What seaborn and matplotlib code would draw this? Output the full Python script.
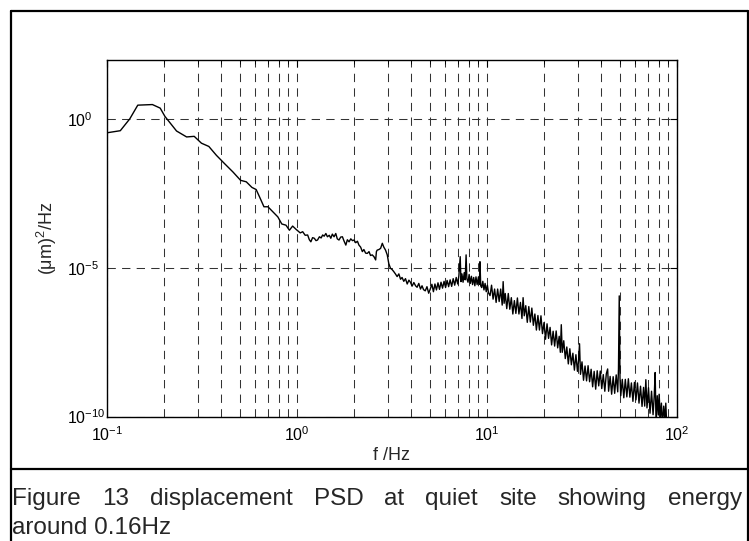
import numpy as np
import pandas as pd
import matplotlib
matplotlib.use("Agg")
import matplotlib.pyplot as plt
import seaborn as sns
from matplotlib.ticker import LogLocator, LogFormatterSciNotation, NullFormatter, NullLocator
from matplotlib.lines import Line2D

# ---------------- data (log10 units) ----------------
log10_freq = [
    -1.000, -0.930, -0.880, -0.838, -0.761, -0.720, -0.695, -0.634, -0.581, -0.541,
    -0.503, -0.464, -0.424, -0.381, -0.337, -0.297, -0.267, -0.237, -0.215, -0.197,
    -0.174, -0.153, -0.127, -0.101, -0.080, -0.058, -0.040, -0.023, -0.005,
    0.017, 0.030, 0.043, 0.056, 0.065, 0.073, 0.082, 0.091, 0.100, 0.108,
    0.118, 0.127, 0.135, 0.143, 0.152, 0.160, 0.170, 0.178, 0.186, 0.195,
    0.204, 0.212, 0.221, 0.230, 0.239, 0.248, 0.257, 0.265, 0.274, 0.283,
    0.292, 0.300, 0.309, 0.318, 0.326, 0.335, 0.344, 0.352, 0.361, 0.370,
    0.379, 0.387, 0.396, 0.405, 0.414, 0.418, 0.422, 0.431, 0.440, 0.449,
    0.457, 0.466, 0.475, 0.483, 0.492, 0.500, 0.509, 0.518, 0.527, 0.536,
    0.545, 0.553, 0.562, 0.571, 0.580, 0.589, 0.597, 0.606, 0.615, 0.624,
    0.632, 0.641, 0.650, 0.658, 0.666, 0.675, 0.684, 0.693, 0.702,
    0.710, 0.718, 0.726, 0.734, 0.742, 0.750, 0.758, 0.766, 0.774, 0.782,
    0.790, 0.798, 0.806, 0.814, 0.822, 0.830, 0.838, 0.846, 0.852, 0.859,
    0.863, 0.868, 0.874, 0.880, 0.885, 0.890, 0.894, 0.900, 0.906, 0.912,
    0.918, 0.924, 0.930, 0.936, 0.942, 0.948, 0.955, 0.960, 0.963, 0.967,
    0.972, 0.978, 0.984, 0.990, 0.996, 1.002, 1.008,
    1.016, 1.024, 1.032, 1.040, 1.048, 1.056, 1.064, 1.072, 1.080, 1.085,
    1.090, 1.096, 1.104, 1.112, 1.120, 1.128, 1.136, 1.144, 1.152, 1.160,
    1.168, 1.176, 1.184, 1.190, 1.196, 1.204, 1.212, 1.220, 1.228, 1.236,
    1.244, 1.252, 1.260, 1.268, 1.276, 1.284, 1.292, 1.300, 1.308, 1.316,
    1.324, 1.332, 1.340, 1.348, 1.356, 1.364, 1.372, 1.380, 1.386, 1.391,
    1.396, 1.404, 1.412, 1.420, 1.428, 1.436, 1.444, 1.452, 1.460, 1.468,
    1.476, 1.482, 1.487, 1.492, 1.500, 1.508, 1.516, 1.524, 1.532, 1.540,
    1.548, 1.556, 1.564, 1.572, 1.580, 1.588, 1.596, 1.604, 1.612, 1.620,
    1.628, 1.635, 1.640, 1.648, 1.656, 1.664, 1.672, 1.680, 1.688, 1.692,
    1.696, 1.700, 1.704, 1.712, 1.720, 1.728, 1.736, 1.744, 1.752, 1.760,
    1.768, 1.776, 1.784, 1.792, 1.800, 1.808, 1.816, 1.824, 1.830, 1.836,
    1.842, 1.850, 1.858, 1.866, 1.874, 1.880, 1.885, 1.890, 1.896, 1.902,
    1.906, 1.912, 1.918, 1.923, 1.930, 1.936, 1.941, 1.946, 1.949,
]
log10_psd = [
    -0.45, -0.38, 0.02, 0.48, 0.50, 0.38, 0.10, -0.39, -0.59, -0.57,
    -0.80, -0.91, -1.21, -1.49, -1.77, -2.05, -2.10, -2.29, -2.36, -2.61,
    -2.94, -2.94, -3.11, -3.28, -3.52, -3.56, -3.73, -3.59, -3.70,
    -3.82, -3.78, -3.90, -3.89, -4.05, -4.12, -3.98, -4.00, -4.08, -4.06,
    -3.95, -3.99, -3.89, -3.93, -3.84, -3.95, -3.90, -4.00, -3.86, -3.95,
    -3.84, -4.02, -4.06, -3.96, -3.95, -4.10, -4.23, -4.05, -4.12, -4.02,
    -4.08, -4.06, -4.15, -4.10, -4.23, -4.30, -4.45, -4.38, -4.50, -4.51,
    -4.45, -4.58, -4.56, -4.62, -4.73, -4.45, -4.40, -4.38, -4.34, -4.17,
    -4.30, -4.40, -4.56, -4.85, -5.01, -5.05, -5.12, -5.20, -5.29, -5.20,
    -5.38, -5.32, -5.45, -5.36, -5.54, -5.41, -5.48, -5.61, -5.49, -5.60,
    -5.65, -5.52, -5.71, -5.60, -5.73, -5.77, -5.63, -5.85, -5.70,
    -5.55, -5.80, -5.54, -5.74, -5.50, -5.72, -5.48, -5.68, -5.45, -5.66,
    -5.42, -5.63, -5.40, -5.62, -5.36, -5.58, -5.32, -5.54, -5.26, -4.62,
    -5.46, -5.20, -5.48, -5.16, -5.40, -4.56, -5.36, -5.48, -5.22, -5.52,
    -5.28, -5.56, -5.32, -5.60, -5.30, -5.56, -5.30, -5.55, -4.79, -5.60,
    -5.66, -5.45, -5.74, -5.52, -5.80, -5.58, -5.84,
    -5.93, -5.58, -6.05, -5.71, -6.16, -5.71, -6.13, -5.71, -6.25, -5.46,
    -6.19, -5.86, -6.37, -5.86, -6.39, -6.00, -6.55, -6.10, -6.53, -6.01,
    -6.55, -6.16, -6.70, -6.00, -6.61, -6.27, -6.83, -6.30, -6.82, -6.35,
    -6.93, -6.55, -7.09, -6.60, -7.09, -6.61, -7.21, -6.84, -7.40, -6.88,
    -7.37, -7.00, -7.59, -7.13, -7.63, -7.12, -7.69, -7.30, -7.84, -6.91,
    -7.84, -7.45, -8.05, -7.66, -8.23, -7.72, -8.26, -7.87, -8.44, -7.92,
    -8.48, -8.12, -7.55, -8.58, -8.16, -8.78, -8.30, -8.80, -8.29, -8.83,
    -8.41, -9.00, -8.48, -9.08, -8.46, -8.97, -8.47, -9.06, -8.59, -9.15,
    -8.56, -8.40, -9.15, -8.65, -9.25, -8.66, -9.22, -8.60, -9.17, -8.40,
    -5.94, -8.70, -9.30, -8.75, -9.37, -8.75, -9.34, -8.73, -9.35, -8.87,
    -9.49, -8.85, -9.44, -8.87, -9.55, -8.98, -9.66, -9.02, -9.65, -8.76,
    -9.71, -9.03, -9.89, -9.15, -9.94, -9.33, -8.52, -10.30, -9.30, -9.95,
    -9.25, -10.05, -9.55, -10.30, -9.65, -10.10, -9.55, -10.30, -10.20,
]

x_tick_values = [1e-1, 1e0, 1e1, 1e2]
y_tick_values = [1e-10, 1e-5, 1e0]
x_label = "f /Hz"
y_label = "(μm)$^{2}$/Hz"
caption_line1 = "Figure 13 displacement PSD at quiet site showing energy"
caption_line2 = "around 0.16Hz"

df = pd.DataFrame({
    "freq": np.power(10.0, log10_freq),
    "psd": np.power(10.0, log10_psd),
})

# ---------------- style ----------------
sns.set_style("white")
plt.rcParams["font.family"] = ["Liberation Sans", "DejaVu Sans"]
plt.rcParams["mathtext.default"] = "regular"
plt.rcParams["axes.unicode_minus"] = False

W, H = 749, 541
fig = plt.figure(figsize=(W / 100, H / 100), dpi=100)
ax = fig.add_axes([107 / W, 1 - 416.5 / H, (677 - 107) / W, (416.5 - 60) / H])

sns.lineplot(data=df, x="freq", y="psd", ax=ax, color="black",
             linewidth=1.0, estimator=None, sort=False)

ax.set_xscale("log")
ax.set_yscale("log")
ax.set_xlim(0.1, 100)
ax.set_ylim(1e-10, 1e2)

ax.xaxis.set_minor_locator(LogLocator(base=10, subs=np.arange(2, 10)))
ax.xaxis.set_minor_formatter(NullFormatter())
ax.set_xticks(x_tick_values)
ax.set_yticks(y_tick_values)
ax.yaxis.set_minor_locator(NullLocator())
ax.xaxis.set_major_formatter(LogFormatterSciNotation())
ax.yaxis.set_major_formatter(LogFormatterSciNotation())

grid_kw = dict(color="0.2", linewidth=0.75, linestyle=(0, (8, 6)))
ax.grid(True, which="major", axis="both", **grid_kw)
ax.grid(True, which="minor", axis="x", **grid_kw)

ax.tick_params(which="both", direction="in", top=True, right=True,
               colors="black", labelsize=11.5)
ax.tick_params(which="major", length=5, width=0.8)
ax.tick_params(which="minor", length=3, width=0.6)
ax.tick_params(axis="x", pad=6)
ax.tick_params(axis="y", pad=29)
for lbl in ax.get_yticklabels():
    lbl.set_horizontalalignment("left")
for s in ax.spines.values():
    s.set_color("black")
    s.set_linewidth(1.0)

ax.set_xlabel(x_label, fontsize=13)
ax.set_ylabel(y_label, fontsize=13)
ax.xaxis.set_label_coords(392 / W, 1 - 455 / H, transform=fig.transFigure)
ax.yaxis.set_label_coords(47 / W, 1 - 238 / H, transform=fig.transFigure)
ax.xaxis.label.set_va("center")
ax.yaxis.label.set_va("center")

# ---------------- outer frame and caption ----------------
frame_kw = dict(color="black", linewidth=1.6, transform=fig.transFigure)
fig.add_artist(Line2D([10.5 / W, 10.5 / W], [0, 1 - 11 / H], **frame_kw))
fig.add_artist(Line2D([10.5 / W, 747.5 / W], [1 - 11 / H, 1 - 11 / H], **frame_kw))
fig.add_artist(Line2D([747.5 / W, 747.5 / W], [0, 1 - 11 / H], **frame_kw))
fig.add_artist(Line2D([10.5 / W, 747.5 / W], [1 - 469 / H, 1 - 469 / H], **frame_kw))

cap_size = 17.5
fig.canvas.draw()
renderer = fig.canvas.get_renderer()
words = caption_line1.split()
texts = [fig.text(0, 1 - 499 / H, w, fontsize=cap_size, va="center", ha="left")
         for w in words]
widths = [t.get_window_extent(renderer).width for t in texts]
x_left, x_right = 12, 742
gap = (x_right - x_left - sum(widths)) / (len(words) - 1)
xpos = x_left
for t, w in zip(texts, widths):
    t.set_x(xpos / W)
    xpos += w + gap
fig.text(x_left / W, 1 - 528 / H, caption_line2, fontsize=cap_size,
         va="center", ha="left")

fig.savefig("out.png", dpi=100)
